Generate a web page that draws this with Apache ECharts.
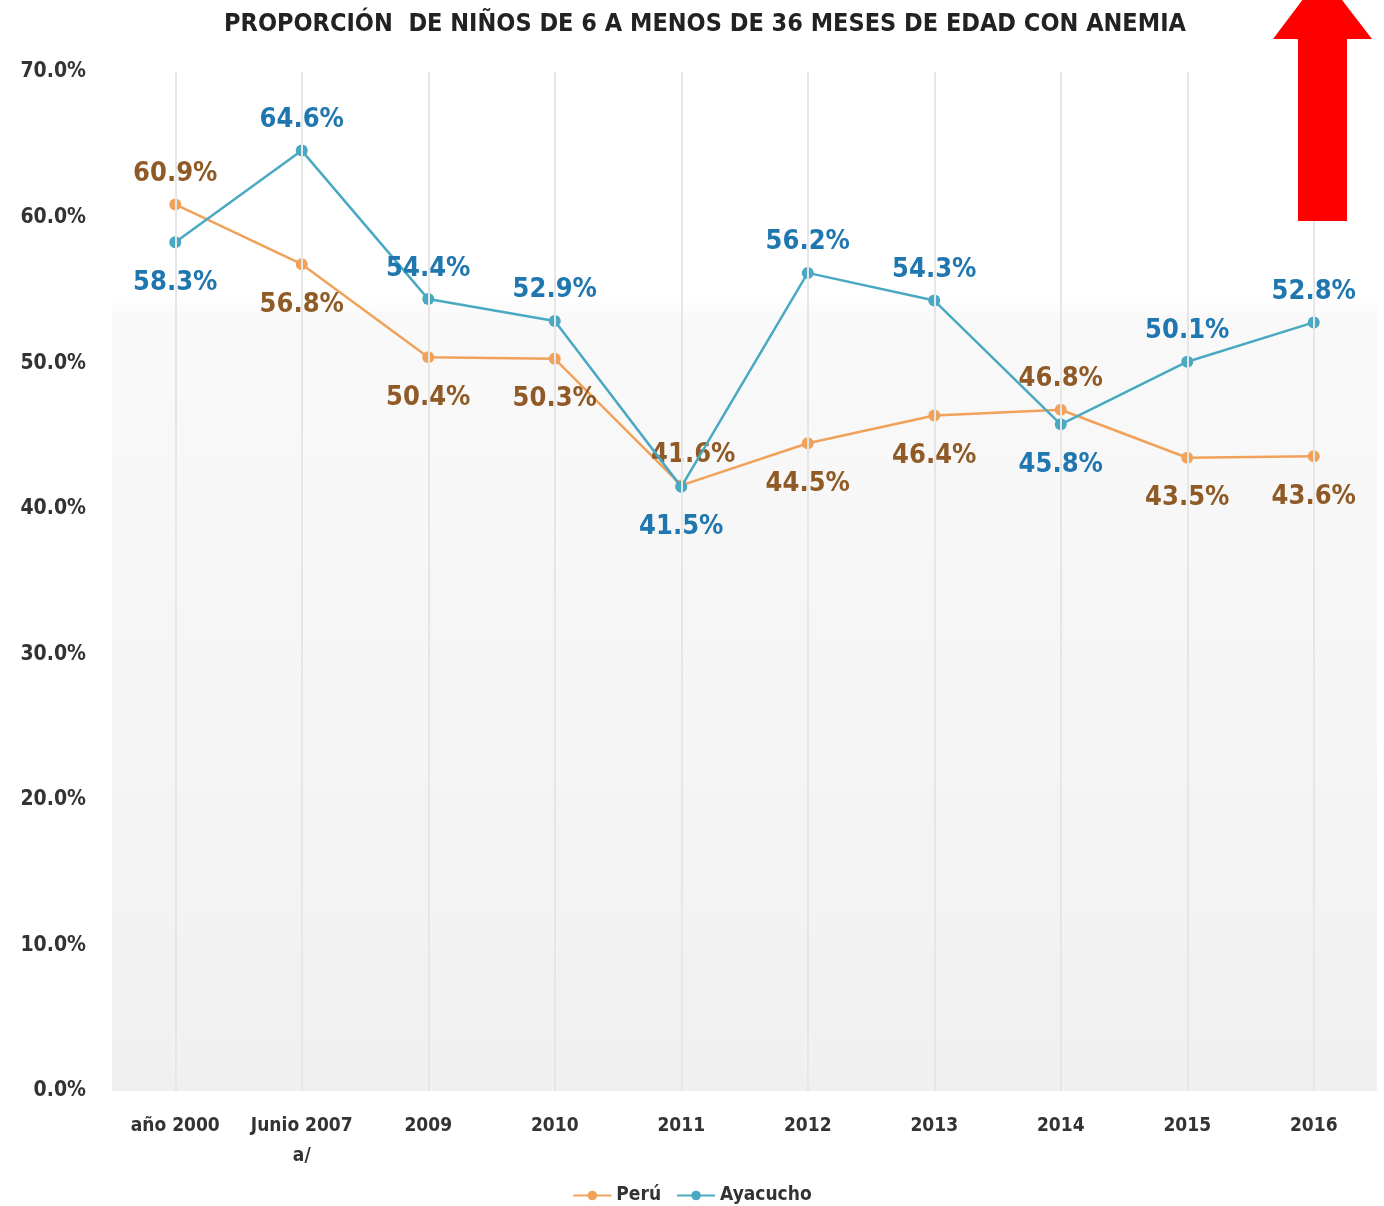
<!DOCTYPE html>
<html>
<head>
<meta charset="utf-8">
<script src="https://cdn.jsdelivr.net/npm/echarts@6/dist/echarts.min.js"></script>
<style>html,body{margin:0;padding:0;background:#fff;}#c{width:1384px;height:1206px;}</style>
</head>
<body>
<div id="c"></div>
<script>
var categories = ['año 2000', 'Junio 2007\na/', '2009', '2010', '2011', '2012', '2013', '2014', '2015', '2016'];
var peru = [60.9, 56.8, 50.4, 50.3, 41.6, 44.5, 46.4, 46.8, 43.5, 43.6];
var ayacucho = [58.3, 64.6, 54.4, 52.9, 41.5, 56.2, 54.3, 45.8, 50.1, 52.8];
var yTicks = [0, 10, 20, 30, 40, 50, 60, 70];

var peruPlace = ['top', 'bottom', 'bottom', 'bottom', 'topRight', 'bottom', 'bottom', 'top', 'bottom', 'bottom'];
var ayaPlace = ['bottom', 'top', 'top', 'top', 'bottom', 'top', 'top', 'bottom', 'top', 'top'];

var FONT = '"DejaVu Sans Condensed", "DejaVu Sans", sans-serif';
var peruLine = '#f0a25a', peruText = '#8f5a26';
var ayaLine = '#4aa9c2', ayaText = '#2077b0';

function buildData(vals, places) {
  return vals.map(function (v, i) {
    var p = places[i];
    var lab = {position: p === 'topRight' ? 'top' : p, distance: p === 'bottom' ? 21 : 11};
    if (p === 'topRight') lab.offset = [12, 0];
    return {value: v, label: lab};
  });
}

var chart = echarts.init(document.getElementById('c'));
chart.setOption({
  animation: false,
  title: {
    text: 'PROPORCIÓN  DE NIÑOS DE 6 A MENOS DE 36 MESES DE EDAD CON ANEMIA',
    left: 700, top: 7, textAlign: 'center',
    textStyle: {fontFamily: FONT, fontWeight: 'bold', fontSize: 25, color: '#222'}
  },
  legend: {
    top: 1181, left: 'center',
    itemWidth: 38, itemHeight: 12, itemGap: 15,
    textStyle: {fontFamily: FONT, fontWeight: 'bold', fontSize: 19, color: '#333'},
    data: ['Perú', 'Ayacucho']
  },
  grid: {
    left: 112, right: 7, top: 72, bottom: 115,
    show: true, borderWidth: 0,
    backgroundColor: new echarts.graphic.LinearGradient(0, 0, 0, 1, [
      {offset: 0, color: '#ffffff'},
      {offset: 0.22, color: '#ffffff'},
      {offset: 0.24, color: '#f9f9f9'},
      {offset: 0.65, color: '#f5f5f5'},
      {offset: 1, color: '#f0f0f0'}
    ])
  },
  xAxis: {
    type: 'category', data: categories, boundaryGap: true,
    axisLine: {show: false}, axisTick: {show: false},
    axisLabel: {fontFamily: FONT, fontWeight: 'bold', fontSize: 19, color: '#333', margin: 20, lineHeight: 30, interval: 0},
    splitLine: {show: false}
  },
  yAxis: {
    type: 'value', min: 0, max: 70, interval: 10,
    axisLine: {show: false}, axisTick: {show: false},
    splitLine: {show: false},
    axisLabel: {
      fontFamily: FONT, fontWeight: 'bold', fontSize: 21, color: '#333', margin: 26,
      formatter: function (v) { return yTicks.indexOf(v) >= 0 ? v.toFixed(1) + '%' : ''; }
    }
  },
  series: [
    {
      name: 'Perú', type: 'line', data: buildData(peru, peruPlace),
      symbol: 'circle', symbolSize: 12,
      lineStyle: {color: peruLine, width: 2.5},
      itemStyle: {color: peruLine},
      label: {show: true, fontFamily: FONT, fontWeight: 'bold', fontSize: 27, color: peruText,
        formatter: function (p) { return p.value.toFixed(1) + '%'; }},
      markLine: {
        silent: true, symbol: 'none', label: {show: false},
        lineStyle: {color: '#e6e6e6', width: 2, type: 'solid'},
        data: categories.map(function (c) { return {xAxis: c}; })
      },
      z: 3
    },
    {
      name: 'Ayacucho', type: 'line', data: buildData(ayacucho, ayaPlace),
      symbol: 'circle', symbolSize: 12,
      lineStyle: {color: ayaLine, width: 2.5},
      itemStyle: {color: ayaLine},
      label: {show: true, fontFamily: FONT, fontWeight: 'bold', fontSize: 27, color: ayaText,
        formatter: function (p) { return p.value.toFixed(1) + '%'; }},
      z: 4
    }
  ],
  graphic: [{
    type: 'polygon', z: 100,
    shape: {points: [[1322, -26], [1372, 39], [1347, 39], [1347, 221], [1298, 221], [1298, 39], [1273, 39]]},
    style: {fill: '#ff0000'}
  }]
});
</script>
</body>
</html>
